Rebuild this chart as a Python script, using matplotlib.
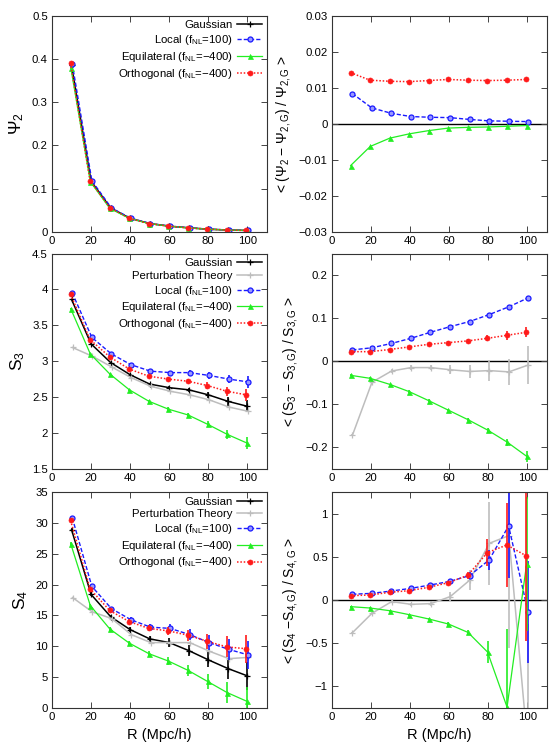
import numpy as np
import matplotlib
matplotlib.use('Agg')
import matplotlib.pyplot as plt
from matplotlib.ticker import MultipleLocator, FuncFormatter

plt.rcParams['font.family'] = ['Liberation Sans', 'DejaVu Sans']
plt.rcParams['mathtext.fontset'] = 'custom'
plt.rcParams['mathtext.rm'] = 'Liberation Sans'
plt.rcParams['mathtext.it'] = 'Liberation Sans:italic'
plt.rcParams['mathtext.bf'] = 'Liberation Sans:bold'

# smoothing radius (Mpc/h)
R = [10, 20, 30, 40, 50, 60, 70, 80, 90, 100]

# Psi_2
psi2_gauss = [0.385, 0.117, 0.055, 0.031, 0.019, 0.013, 0.009, 0.006, 0.004, 0.003]
psi2_local = [0.388, 0.118, 0.055, 0.031, 0.019, 0.013, 0.009, 0.006, 0.004, 0.003]
psi2_equil = [0.380, 0.116, 0.054, 0.031, 0.019, 0.013, 0.009, 0.006, 0.004, 0.003]
psi2_orth = [0.390, 0.118, 0.056, 0.031, 0.019, 0.013, 0.009, 0.006, 0.004, 0.003]

dpsi2_local = [0.0084, 0.0044, 0.0029, 0.0020, 0.0018, 0.0017, 0.0012, 0.0008, 0.0007, 0.0006]
dpsi2_equil = [-0.0116, -0.0063, -0.0040, -0.0028, -0.0019, -0.0012, -0.0010, -0.0009, -0.0007, -0.0005]
dpsi2_orth = [0.0142, 0.0121, 0.0118, 0.0117, 0.0120, 0.0123, 0.0121, 0.0120, 0.0121, 0.0123]

# S_3
s3_gauss = [3.86, 3.24, 2.98, 2.81, 2.68, 2.63, 2.60, 2.53, 2.44, 2.37]
s3_pt = [3.19, 3.07, 2.92, 2.77, 2.65, 2.58, 2.53, 2.46, 2.36, 2.30]
s3_local = [3.95, 3.33, 3.10, 2.95, 2.86, 2.84, 2.84, 2.80, 2.75, 2.71]
s3_equil = [3.73, 3.10, 2.82, 2.60, 2.44, 2.33, 2.25, 2.12, 1.98, 1.86]
s3_orth = [3.93, 3.30, 3.06, 2.89, 2.79, 2.75, 2.72, 2.66, 2.58, 2.53]
s3_err = [0.01, 0.01, 0.01, 0.015, 0.02, 0.025, 0.03, 0.045, 0.06, 0.085]

ds3_local = [0.026, 0.031, 0.041, 0.053, 0.067, 0.080, 0.092, 0.108, 0.126, 0.147]
ds3_local_err = [0.002, 0.002, 0.002, 0.002, 0.003, 0.003, 0.003, 0.004, 0.004, 0.005]
ds3_equil = [-0.033, -0.040, -0.054, -0.071, -0.092, -0.114, -0.136, -0.160, -0.188, -0.221]
ds3_equil_err = [0.002, 0.002, 0.002, 0.003, 0.003, 0.003, 0.004, 0.005, 0.008, 0.013]
ds3_orth = [0.022, 0.022, 0.027, 0.033, 0.039, 0.043, 0.047, 0.053, 0.060, 0.067]
ds3_orth_err = [0.002, 0.002, 0.002, 0.003, 0.003, 0.004, 0.005, 0.007, 0.010, 0.012]
ds3_pt = [-0.172, -0.049, -0.023, -0.015, -0.015, -0.020, -0.024, -0.022, -0.025, -0.009]
ds3_pt_err = [0.002, 0.003, 0.004, 0.005, 0.006, 0.010, 0.015, 0.025, 0.030, 0.043]

# S_4
s4_gauss = [28.9, 18.4, 14.8, 12.7, 11.2, 10.6, 9.3, 7.8, 6.4, 5.2]
s4_pt = [17.9, 15.6, 14.5, 11.9, 10.6, 10.6, 10.6, 9.2, 8.0, 8.2]
s4_local = [30.8, 19.7, 16.1, 14.3, 13.1, 12.9, 11.9, 10.6, 9.5, 8.6]
s4_equil = [26.6, 16.6, 12.8, 10.5, 8.8, 7.6, 6.1, 4.3, 2.5, 1.1]
s4_orth = [30.4, 19.3, 15.8, 14.0, 12.9, 12.5, 11.8, 10.8, 9.9, 9.6]
s4_err = [0.3, 0.3, 0.3, 0.4, 0.5, 0.7, 0.9, 1.2, 1.7, 2.3]

ds4_local = [0.066, 0.077, 0.104, 0.135, 0.174, 0.216, 0.282, 0.463, 0.857, -0.143]
ds4_local_err = [0.01, 0.01, 0.01, 0.01, 0.015, 0.02, 0.04, 0.12, 0.60, 0.59]
ds4_equil = [-0.077, -0.093, -0.124, -0.170, -0.220, -0.278, -0.375, -0.602, -1.24, 0.417]
ds4_equil_err = [0.01, 0.01, 0.01, 0.01, 0.015, 0.02, 0.03, 0.125, 0.90, 0.78]
ds4_orth = [0.050, 0.058, 0.089, 0.108, 0.147, 0.200, 0.286, 0.548, 0.637, 0.510]
ds4_orth_err = [0.01, 0.01, 0.01, 0.01, 0.015, 0.02, 0.04, 0.16, 0.49, 0.98]
ds4_pt = [-0.378, -0.154, -0.019, -0.050, -0.042, 0.039, 0.230, 0.656, 0.745, -1.78]
ds4_pt_err = [0.01, 0.01, 0.015, 0.02, 0.03, 0.05, 0.12, 0.48, 1.30, 1.5]

labels = {
    'gauss': 'Gaussian',
    'pt': 'Perturbation Theory',
    'local': r'Local (f$_{\mathrm{NL}}$=100)',
    'equil': r'Equilateral (f$_{\mathrm{NL}}$=−400)',
    'orth': r'Orthogonal (f$_{\mathrm{NL}}$=−400)',
}
styles = {
    'gauss': dict(color='black', ls='-', marker='+', ms=4, mew=0.9, lw=1.1, dx=0.0),
    'pt': dict(color='#bdbdbd', ls='-', marker='+', ms=4, mew=0.9, lw=1.1, dx=0.5),
    'local': dict(color='#1a1aff', ls=(0, (3, 1.5)), marker='o', ms=3.6, mew=0.9, lw=1.0,
                  mfc='#9999ff', dx=0.4),
    'equil': dict(color='#22ee22', ls='-', marker='^', ms=3.6, mew=0.5, lw=0.9, dx=-0.4),
    'orth': dict(color='#ff1a1a', ls=(0, (1, 1.2)), marker='o', ms=3.6, mew=0.5, lw=1.1, dx=-0.5),
}

fig = plt.figure(figsize=(5.56, 7.5), dpi=100)
lx, rx, w = 0.0935, 0.597, 0.3867
rows = [(0.691, 0.288), (0.375, 0.287), (0.056, 0.288)]


def fmt(v, pos):
    s = '%g' % round(v, 6)
    if s == '-0':
        s = '0'
    return s.replace('-', '−')


def setup(ax, ylim, ystep):
    ax.set_xlim(0, 110)
    ax.set_ylim(*ylim)
    ax.xaxis.set_major_locator(MultipleLocator(20))
    ax.yaxis.set_major_locator(MultipleLocator(ystep))
    ax.yaxis.set_major_formatter(FuncFormatter(fmt))
    ax.tick_params(direction='in', top=True, right=True, length=4, width=0.7,
                   labelsize=8.2, pad=3, color='#444444')
    for sp in ax.spines.values():
        sp.set_linewidth(0.8)
        sp.set_color('#333333')


def draw(ax, key, y, err=None):
    st = dict(styles[key])
    dx = st.pop('dx')
    x = np.array(R) + dx
    if err is not None:
        ax.errorbar(x, y, yerr=err, fmt='none', ecolor=st['color'], elinewidth=1.2, capsize=0)
    ax.plot(x, y, label=labels[key], **st)


def legend(ax):
    ax.legend(loc='upper right', frameon=False, markerfirst=False, fontsize=8.2,
              handlelength=2.2, handletextpad=0.4, labelspacing=0.24,
              borderaxespad=0.3, borderpad=0.1)


def zero(ax):
    ax.axhline(0, color='black', lw=1.0, zorder=1)


# row 1
ax = fig.add_axes([lx, rows[0][0], w, rows[0][1]])
draw(ax, 'gauss', psi2_gauss)
draw(ax, 'local', psi2_local)
draw(ax, 'equil', psi2_equil)
draw(ax, 'orth', psi2_orth)
setup(ax, (0, 0.5), 0.1)
legend(ax)
ax.set_ylabel(r'$\Psi_2$', fontsize=12.5)

ax = fig.add_axes([rx, rows[0][0], w, rows[0][1]])
zero(ax)
draw(ax, 'local', dpsi2_local)
draw(ax, 'equil', dpsi2_equil)
draw(ax, 'orth', dpsi2_orth)
setup(ax, (-0.03, 0.03), 0.01)
ax.set_ylabel(r'< ($\Psi_2$ − $\Psi_{2,\mathrm{G}}$) / $\Psi_{2,\mathrm{G}}$ >', fontsize=10)

# row 2
ax = fig.add_axes([lx, rows[1][0], w, rows[1][1]])
draw(ax, 'gauss', s3_gauss, s3_err)
draw(ax, 'pt', s3_pt)
draw(ax, 'local', s3_local, s3_err)
draw(ax, 'equil', s3_equil, s3_err)
draw(ax, 'orth', s3_orth, s3_err)
setup(ax, (1.5, 4.5), 0.5)
legend(ax)
ax.set_ylabel(r'S$_3$', fontsize=12.5)

ax = fig.add_axes([rx, rows[1][0], w, rows[1][1]])
zero(ax)
draw(ax, 'pt', ds3_pt, ds3_pt_err)
draw(ax, 'local', ds3_local, ds3_local_err)
draw(ax, 'equil', ds3_equil, ds3_equil_err)
draw(ax, 'orth', ds3_orth, ds3_orth_err)
setup(ax, (-0.25, 0.25), 0.1)
ax.set_ylabel(r'< (S$_3$ − S$_{\mathrm{3,G}}$) / S$_{\mathrm{3,G}}$ >', fontsize=10)

# row 3
ax = fig.add_axes([lx, rows[2][0], w, rows[2][1]])
draw(ax, 'gauss', s4_gauss, s4_err)
draw(ax, 'pt', s4_pt)
draw(ax, 'local', s4_local, s4_err)
draw(ax, 'equil', s4_equil, s4_err)
draw(ax, 'orth', s4_orth, s4_err)
setup(ax, (0, 35), 5)
legend(ax)
ax.set_ylabel(r'S$_4$', fontsize=12.5)
ax.set_xlabel('R (Mpc/h)', fontsize=10.5)

ax = fig.add_axes([rx, rows[2][0], w, rows[2][1]])
zero(ax)
draw(ax, 'pt', ds4_pt, ds4_pt_err)
draw(ax, 'local', ds4_local, ds4_local_err)
draw(ax, 'equil', ds4_equil, ds4_equil_err)
draw(ax, 'orth', ds4_orth, ds4_orth_err)
setup(ax, (-1.25, 1.25), 0.5)
ax.set_ylabel(r'< (S$_4$ −S$_{\mathrm{4,G}}$) / S$_{\mathrm{4,G}}$ >', fontsize=10)
ax.set_xlabel('R (Mpc/h)', fontsize=10.5)

fig.savefig('out.png', dpi=100)
